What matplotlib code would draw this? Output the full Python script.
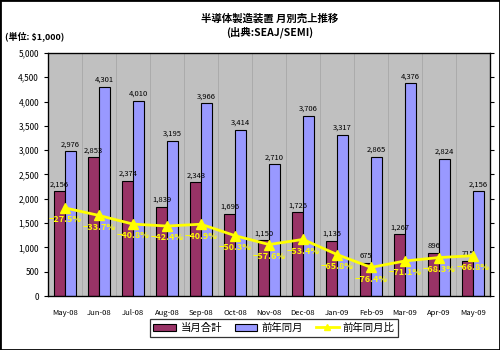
import numpy as np
import matplotlib
matplotlib.use('Agg')
import matplotlib.pyplot as plt
from matplotlib.patches import Rectangle

plt.rcParams['font.family'] = ['Noto Sans CJK JP', 'DejaVu Sans']

# データ
months = ['May-08', 'Jun-08', 'Jul-08', 'Aug-08', 'Sep-08', 'Oct-08', 'Nov-08',
          'Dec-08', 'Jan-09', 'Feb-09', 'Mar-09', 'Apr-09', 'May-09']
current = [2156, 2853, 2374, 1839, 2343, 1696, 1150, 1726, 1135, 675, 1267, 896, 715]
prev_year = [2976, 4301, 4010, 3195, 3966, 3414, 2710, 3706, 3317, 2865, 4376, 2824, 2156]
yoy = [-27.5, -33.7, -40.8, -42.4, -40.9, -50.3, -57.6, -53.4, -65.8, -76.4, -71.1, -68.3, -66.8]

fig = plt.figure(figsize=(5, 3.5), dpi=100)
ax = fig.add_axes([0.096, 0.154, 0.884, 0.695])
ax.set_facecolor('#C0C0C0')

x = np.arange(len(months))
w = 0.31
ax.bar(x - w / 2, current, w, color='#993366', edgecolor='black', linewidth=0.8,
       label='当月合計', zorder=2)
ax.bar(x + w / 2, prev_year, w, color='#9999FF', edgecolor='black', linewidth=0.8,
       label='前年同月', zorder=2)

# 区切り線
for b in np.arange(0.5, len(months) - 1, 1):
    ax.axvline(b, color='#A8A8A8', lw=0.6, zorder=1)

for i in range(len(months)):
    ax.text(x[i] - w / 2, current[i] + 60, f'{current[i]:,}', ha='center', va='bottom',
            fontsize=5.5, zorder=4)
    ax.text(x[i] + w / 2, prev_year[i] + 60, f'{prev_year[i]:,}', ha='center', va='bottom',
            fontsize=5.5, zorder=4)

ax.set_xlim(-0.5, len(months) - 0.5)
ax.set_ylim(0, 5000)
ax.set_yticks(range(0, 5001, 500))
ax.set_yticklabels([f'{v:,}' for v in range(0, 5001, 500)], fontsize=6)
ax.set_xticks(x)
ax.set_xticklabels(months, fontsize=5.5)
ax.tick_params(axis='x', length=0, pad=9)
ax.tick_params(axis='y', length=3, width=0.8)
for s in ax.spines.values():
    s.set_linewidth(0.9)

# 前年同月比(第2軸)
ax2 = ax.twinx()
ax2.set_ylim(-100, 100)
ax2.set_yticks(range(-100, 101, 20))
ax2.set_yticklabels([])
ax2.tick_params(axis='y', length=3, width=0.8)
ax2.plot(x, yoy, color='#FFFF00', lw=2, marker='^', markersize=7,
         label='前年同月比', zorder=5)
for i in range(len(months)):
    ax2.text(x[i], yoy[i] - 6, f'{yoy[i]:.1f}%'.replace('-', '−'), ha='center', va='top',
             fontsize=6.5, color='#FFFF00', fontweight='bold', zorder=6)

h1, l1 = ax.get_legend_handles_labels()
h2, l2 = ax2.get_legend_handles_labels()
leg = fig.legend(h1 + h2, l1 + l2, loc='center', bbox_to_anchor=(0.548, 0.063), ncol=3,
                 fontsize=7.5, frameon=True, fancybox=False, edgecolor='black',
                 handlelength=2.2, handletextpad=0.4, columnspacing=1.2,
                 borderpad=0.35, markerscale=0.7)
leg.get_frame().set_linewidth(0.9)

fig.text(0.54, 0.948, '半導体製造装置 月別売上推移', ha='center', va='center',
         fontsize=7.5, fontweight='bold')
fig.text(0.54, 0.908, '(出典:SEAJ/SEMI)', ha='center', va='center',
         fontsize=7.5, fontweight='bold')
fig.text(0.01, 0.897, '(単位: $1,000)', ha='left', va='center', fontsize=6.5,
         fontweight='bold')

fig.add_artist(Rectangle((0, 0), 1, 1, transform=fig.transFigure, fill=False,
                         lw=2, ec='black'))

fig.savefig('out.png', dpi=100)
